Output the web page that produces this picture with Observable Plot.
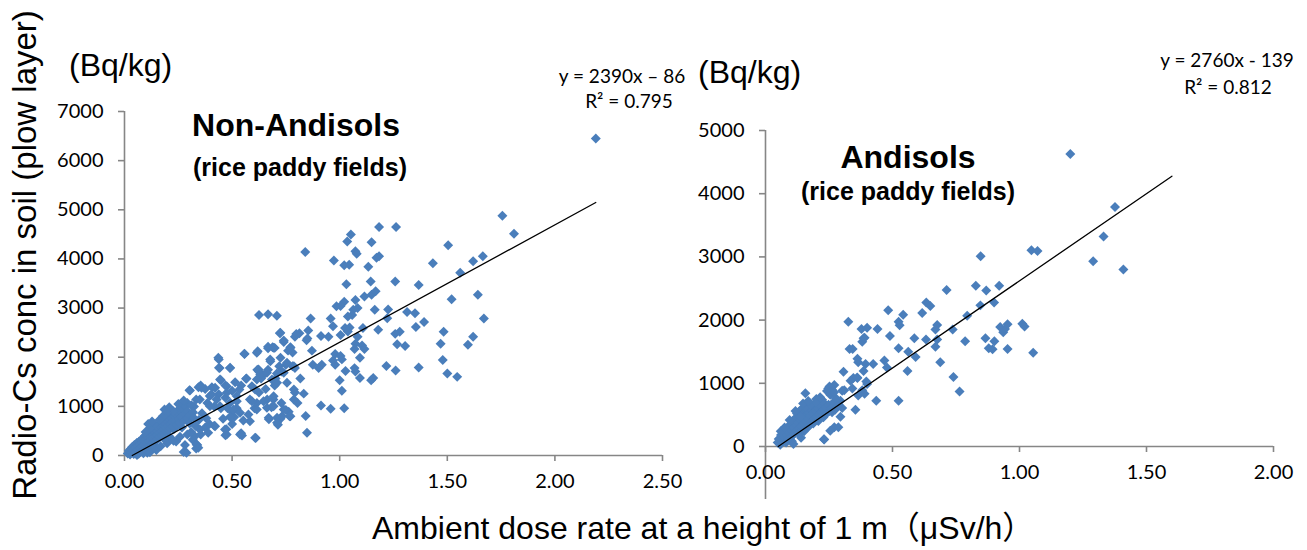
<!DOCTYPE html>
<html>
<head>
<meta charset="utf-8">
<script src="https://cdn.jsdelivr.net/npm/d3@7"></script>
<script src="https://cdn.jsdelivr.net/npm/@observablehq/plot@0.6"></script>
<style>
  html, body { margin: 0; padding: 0; background: #fff; }
  #wrap { position: relative; width: 1307px; height: 550px; overflow: hidden; background: #fff; }
  #wrap svg.panel { position: absolute; top: 0; }
  #wrap svg.panel g[aria-label$="tick label"] text { font-family: Lato, 'Open Sans', sans-serif; }
  #overlay { position: absolute; left: 0; top: 0; pointer-events: none; }
</style>
</head>
<body>
<div id="wrap"></div>
<script>
// ---------------- DATA ----------------
// Non-Andisols: [ambient dose rate (µSv/h), radio-Cs conc (Bq/kg)]
const nonAndisolsPoints = [
  [2.19,6450],[1.756,4880],[1.81,4510],[1.504,4280],[1.433,3910],[1.62,3955],[1.665,4054],[1.56,3720],
  [1.367,3470],[1.258,3540],[1.52,3180],[1.642,3270],[1.67,2790],[1.313,2920],[1.35,2895],[1.392,2717],
  [1.354,2617],[1.483,2518],[1.62,2418],[1.596,2255],[1.469,2276],[1.304,2226],[1.267,2262],[1.279,2518],
  [1.258,2475],[1.479,1942],[1.217,1821],[1.26,1728],[1.367,1792],[1.5,1671],[1.546,1600],[1.225,2973],
  [1.221,2795],[1.179,2560],[1.163,2966],[1.183,4054],[1.171,4025],[1.183,4651],[1.262,4651],[1.148,4338],
  [1.133,3840],[1.144,3542],[1.148,3270],[1.167,3343],[1.115,3236],[1.073,3165],[1.021,3130],[0.985,3037],
  [1.004,3044],[1.031,3485],[1.052,4495],[1.035,4353],[1.073,4154],[1.079,4104],[1.021,3869],[1.044,3883],
  [0.973,3968],[0.84,4140],[1.063,2966],[1.083,3001],[1.058,2860],[1.038,2830],[0.958,2790],[0.865,2790],
  [0.625,2860],[0.667,2873],[0.708,2845],[0.854,2546],[0.969,2631],[1.025,2596],[1.046,2603],[1.038,2525],
  [1.004,2454],[0.948,2418],[0.913,2432],[1.108,2596],[1.083,2418],[1.073,2276],[1.104,2240],[1.115,2169],
  [1.069,2169],[1.094,1991],[0.979,2063],[1.004,2027],[0.979,1849],[0.969,1935],[1.01,1956],[0.917,1849],
  [0.875,1849],[0.902,1778],[1.027,1721],[1.069,1778],[1.073,1707],[1.094,1579],[1.146,1529],[1.156,1579],
  [1.0,1529],[1.01,1316],[0.913,1017],[0.958,953],[1.021,960],[0.842,804],[0.848,462],[0.817,1565],
  [0.792,1280],[0.833,1259],[0.804,1067],[0.763,889],[0.767,797],[0.75,925],[0.729,1067],[0.713,626],
  [0.725,747],[0.671,740],[0.683,982],[0.663,1138],[0.61,356],[0.583,697],[0.542,455],[0.546,405],
  [0.469,412],[0.473,533],[0.5,640],[0.51,782],[0.552,711],[0.604,960],[0.615,1067],[0.583,1138],
  [0.625,1280],[0.656,1351],[0.698,1422],[0.702,1565],[0.692,1138],[0.725,1991],[0.74,2311],[0.722,2489],
  [0.76,2134],[0.771,2205],[0.781,2098],[0.792,2418],[0.813,2489],[0.798,2470],[0.846,2347],[0.85,2383],
  [0.871,2134],[0.75,1849],[0.719,1814],[0.781,1814],[0.792,1778],[0.688,2205],[0.667,2183],[0.698,2190],
  [0.677,1956],[0.619,2120],[0.558,2063],[0.617,1743],[0.625,1707],[0.646,1636],[0.635,1565],[0.667,1743],
  [0.708,1671],[0.729,1707],[0.567,1565],[0.542,1422],[0.49,1778],[0.438,1956],[0.442,1778],[0.448,1529],
  [0.469,1422],[0.5,1316],[0.521,1209],[0.469,1173],[0.438,1245],[0.396,1209],[0.406,1387],[0.375,1351],
  [0.354,1422],[0.344,1387],[0.302,1330],[0.333,1138],[0.385,1067],[0.417,996],[0.448,960],[0.479,960],
  [0.5,889],[0.521,960],[0.49,782],[0.458,747],[0.417,605],[0.375,569],[0.354,427],[0.338,213],
  [0.333,142],[0.317,320],[0.292,427],[0.267,569],[0.292,711],[0.313,853],[0.323,996],[0.292,1067],
  [0.271,996],[0.25,889],[0.229,853],[0.281,213],[0.275,71],[0.24,284],[0.208,391],[0.188,320],
  [0.177,498],[0.156,569],[0.135,213],[0.115,142],[0.083,107],[0.094,391],[0.125,462],[0.146,356],
  [0.24,711],[0.25,640],[0.219,605],[0.198,533],[0.229,533],[0.26,782],[0.208,747],
  [0.436,1988],[0.439,1785],[0.491,1785],[0.557,2070],[0.615,2090],[0.667,2212],[0.693,2192],[0.724,2497],
  [0.74,2340],[0.771,2192],[0.678,1919],[0.623,1750],[0.631,1648],[0.662,1683],[0.685,1547],[0.709,1480],
  [0.74,1683],[0.755,1886],[0.787,1817],[0.755,1480],[0.787,1343],[0.444,1547],[0.514,1492],[0.565,1561],
  [0.534,1343],[0.592,1410],[0.607,1343],[0.615,1547],[0.475,1410],[0.475,1276],[0.421,1378],[0.405,1241],
  [0.358,1378],[0.304,1323],[0.35,1140],[0.397,1003],[0.428,1140],[0.444,1003],[0.491,1072],[0.522,1105],
  [0.506,936],[0.537,869],[0.576,834],[0.592,1105],[0.615,936],[0.646,1105],[0.662,971],[0.693,1207],
  [0.693,1003],[0.67,767],[0.709,767],[0.732,800],[0.74,936],[0.771,800],[0.787,1140],[0.709,665],
  [0.607,360],[0.537,427],[0.475,427],[0.467,529],[0.421,596],[0.335,224],[0.343,157],[0.288,55],
  [0.35,529],[0.389,462],[0.327,393],
  // dense low cluster
  [0.015,40],[0.02,95],[0.026,18],[0.031,135],[0.033,62],[0.036,172],[0.041,104],[0.043,28],[0.046,212],
  [0.051,148],[0.052,74],[0.057,254],[0.061,186],[0.063,112],[0.066,35],[0.068,285],[0.072,218],[0.073,152],
  [0.077,318],[0.081,262],[0.082,178],[0.084,92],[0.087,352],[0.091,298],[0.093,224],[0.097,405],[0.101,328],
  [0.102,262],[0.104,158],[0.106,58],[0.108,424],[0.112,362],[0.113,288],[0.117,462],[0.121,392],[0.122,318],
  [0.124,228],[0.127,505],[0.131,428],[0.133,352],[0.134,162],[0.137,542],[0.141,472],[0.142,388],[0.144,296],
  [0.147,584],[0.151,502],[0.152,418],[0.154,338],[0.157,612],[0.161,544],[0.162,458],[0.164,378],[0.167,652],
  [0.171,576],[0.172,502],[0.174,414],[0.177,688],[0.181,622],[0.182,538],[0.184,452],[0.187,724],[0.191,648],
  [0.192,568],[0.194,482],[0.197,762],[0.201,692],[0.202,612],[0.204,518],[0.207,798],[0.211,728],[0.212,642],
  [0.214,548],[0.217,842],[0.221,758],[0.223,682],[0.226,592],[0.231,878],[0.233,802],[0.236,702],[0.241,832],
  [0.243,622],[0.247,918],[0.251,858],[0.253,742],[0.257,662],[0.262,902],[0.266,782],[0.271,958],[0.273,702],
  [0.281,842],[0.283,1002],[0.291,762],[0.293,902],[0.301,822],[0.303,652],[0.311,1022],[0.318,882],[0.322,762],
  [0.226,902],[0.196,868],[0.178,798],[0.162,722],[0.138,632],[0.118,556],[0.098,478],[0.186,938],[0.208,980],
  [0.058,12],[0.088,45],[0.118,68],[0.148,110],[0.168,190],[0.198,250],[0.228,300],[0.258,380],[0.11,640],
  [0.128,690],[0.25,1050],[0.275,1120],[0.33,600],[0.345,720],[0.36,860],[0.38,760],[0.395,640],[0.31,480]
];

// Andisols
const andisolsPoints = [
  [1.2,4628],[1.376,3789],[1.331,3322],[1.29,2933],[1.409,2800],[1.047,3106],[1.071,3094],[0.847,3011],
  [0.828,2544],[0.92,2544],[0.869,2467],[0.713,2478],[0.9,2278],[0.846,2233],[0.794,2067],[0.633,2278],
  [0.649,2222],[0.617,2111],[0.542,2083],[0.483,2156],[0.524,1972],[0.528,1917],[0.326,1972],[0.378,1861],
  [0.4,1878],[0.441,1861],[0.676,1922],[0.669,1850],[0.737,1850],[0.586,1711],[0.632,1694],[0.49,1750],
  [0.386,1711],[0.381,1656],[0.39,1722],[0.331,1544],[0.343,1544],[0.524,1556],[0.562,1500],[0.591,1417],
  [0.669,1578],[0.676,1694],[0.786,1667],[0.866,1711],[0.901,1667],[0.879,1556],[0.894,1539],[0.953,1544],
  [0.924,1889],[0.943,1861],[0.936,1806],[0.953,1933],[1.011,1944],[1.02,1900],[1.054,1483],[0.688,1333],
  [0.559,1194],[0.468,1361],[0.478,1250],[0.424,1306],[0.386,1194],[0.394,1306],[0.362,1389],[0.365,1333],
  [0.307,1183],[0.74,1100],[0.764,872],[0.436,722],[0.524,722],[0.354,583],[0.346,1083],[0.362,1083],
  [0.397,1028],[0.342,917],[0.31,889],[0.381,889],[0.365,806],[0.39,833],[0.271,972],[0.247,917],
  [0.26,833],[0.157,844],[0.2,750],[0.224,667],[0.287,667],[0.302,611],[0.295,472],[0.231,111],
  [0.271,306],[0.287,306],[0.255,250],[0.335,1041],[0.361,1093],[0.4,989],[0.302,882],[0.295,724],
  [0.23,116],[0.274,580],[0.262,540],
  // dense low cluster
  [0.048,62],[0.052,118],[0.058,28],[0.061,182],[0.066,92],[0.069,222],[0.072,148],[0.078,252],[0.081,64],
  [0.083,182],[0.088,302],[0.091,122],[0.093,222],[0.098,352],[0.101,262],[0.103,162],[0.104,82],[0.108,402],
  [0.111,302],[0.113,198],[0.118,452],[0.121,342],[0.122,242],[0.124,522],[0.128,382],[0.131,482],[0.133,282],
  [0.134,562],[0.138,422],[0.141,322],[0.142,518],[0.144,598],[0.148,462],[0.151,362],[0.152,542],[0.158,402],
  [0.161,502],[0.162,578],[0.164,302],[0.168,442],[0.171,542],[0.172,618],[0.178,482],[0.181,382],[0.182,578],
  [0.188,522],[0.191,422],[0.192,638],[0.198,562],[0.201,462],[0.202,682],[0.208,602],[0.211,502],[0.218,642],
  [0.221,542],[0.223,738],[0.228,582],[0.232,682],[0.238,622],[0.241,522],[0.248,662],[0.251,562],[0.258,602],
  [0.262,898],[0.268,702],[0.278,758],[0.282,642],[0.132,202],[0.152,242],[0.171,322],[0.188,362],[0.208,402],
  [0.228,462],[0.242,878],[0.252,948],[0.118,560],[0.138,470],[0.158,620],[0.178,660],[0.198,700],[0.215,780],
  [0.255,820],[0.27,860],[0.06,240],[0.075,300],[0.095,420],[0.148,680],[0.168,720],[0.11,40],[0.14,140]
];

const nonAndisolsTrend = { slope: 2390, intercept: -86, xStart: 0.036, xEnd: 2.19 };
const andisolsTrend    = { slope: 2760, intercept: -139, xStart: 0.05, xEnd: 1.6 };

const leftXTicks  = [0, 0.5, 1.0, 1.5, 2.0, 2.5];
const leftYTicks  = [0, 1000, 2000, 3000, 4000, 5000, 6000, 7000];
const rightXTicks = [0, 0.5, 1.0, 1.5, 2.0];
const rightYTicks = [0, 1000, 2000, 3000, 4000, 5000];

const texts = {
  yLabel: "Radio-Cs conc in soil (plow layer)",
  xLabel: "Ambient dose rate at a height of 1 m（μSv/h）",
  unit: "(Bq/kg)",
  leftTitle: "Non-Andisols",
  rightTitle: "Andisols",
  subtitle: "(rice paddy fields)",
  leftEq: "y = 2390x – 86",
  leftR2: "R² = 0.795",
  rightEq: "y = 2760x - 139",
  rightR2: "R² = 0.812"
};

// ---------------- DRAW ----------------
const AXIS = "#868686";
const DOT = "#4a7ebb";
const tickFont = "Lato, 'Open Sans', sans-serif";

function trendLine(t) {
  return [t.xStart, t.xEnd].map(x => ({x, y: t.slope * x + t.intercept}));
}

function panel({points, trend, xTicks, yTicks, xDomain, yDomain, width, height, margins, axisExtend}) {
  const data = points.map(([x, y]) => ({x, y}));
  const svg = Plot.plot({
    width, height,
    marginLeft: margins[0], marginRight: margins[1], marginTop: margins[2], marginBottom: margins[3],
    x: {domain: xDomain},
    y: {domain: yDomain},
    style: {fontFamily: tickFont, fontSize: "20px", color: "#000", background: "transparent", overflow: "visible"},
    marks: [
      Plot.ruleY([0], {stroke: AXIS, strokeWidth: 1.6}),
      Plot.ruleX([0], {y1: axisExtend, y2: yDomain[1], stroke: AXIS, strokeWidth: 1.6}),
      Plot.axisX({ticks: xTicks, tickFormat: d3.format(".2f"), tickSize: 6, tickPadding: 12,
                  stroke: AXIS, strokeWidth: 1.6, fill: "#000", label: null, fontSize: 20}),
      Plot.axisY({ticks: yTicks, tickFormat: d3.format("d"), tickSize: 6, tickPadding: 15,
                  stroke: AXIS, strokeWidth: 1.6, fill: "#000", label: null, fontSize: 20}),
      Plot.dot(data, {x: "x", y: "y", symbol: "diamond2", r: 4.5, fill: DOT, stroke: null}),
      Plot.line(trendLine(trend), {x: "x", y: "y", stroke: "#000", strokeWidth: 1.3})
    ]
  });
  // make sure tick labels use the intended size
  svg.querySelectorAll("text").forEach(t => { t.setAttribute("font-size", "20"); t.style.fontSize = "20px"; });
  return svg;
}

const wrap = document.getElementById("wrap");

const left = panel({
  points: nonAndisolsPoints, trend: nonAndisolsTrend,
  xTicks: leftXTicks, yTicks: leftYTicks, xDomain: [0, 2.5], yDomain: [0, 7000],
  width: 680, height: 550, margins: [124, 18, 111, 95], axisExtend: 0
});
left.classList.add("panel");
left.style.left = "0px";
wrap.appendChild(left);

const right = panel({
  points: andisolsPoints, trend: andisolsTrend,
  xTicks: rightXTicks, yTicks: rightYTicks, xDomain: [0, 2.0], yDomain: [0, 5000],
  width: 627, height: 550, margins: [85, 34, 130, 104], axisExtend: -840
});
right.classList.add("panel");
right.style.left = "680px";
wrap.appendChild(right);

// text overlay
const ov = d3.select(wrap).append("svg").attr("id", "overlay")
  .attr("width", 1307).attr("height", 550);
const sans = "'Liberation Sans', Arial, 'Noto Sans CJK JP', sans-serif";

function txt(x, y, s, {size, weight = "normal", anchor = "start", family = sans, rotate = 0}) {
  return ov.append("text")
    .attr("transform", `translate(${x},${y})` + (rotate ? ` rotate(${rotate})` : ""))
    .attr("text-anchor", anchor)
    .style("font-family", family)
    .style("font-size", size + "px")
    .style("font-weight", weight)
    .attr("fill", "#000")
    .text(s);
}

txt(36, 255, texts.yLabel, {size: 33, anchor: "middle", rotate: -90});
txt(372, 539, texts.xLabel, {size: 32});
txt(69, 76, texts.unit, {size: 32});
txt(698, 83, texts.unit, {size: 32});
txt(296, 136, texts.leftTitle, {size: 32, weight: "bold", anchor: "middle"});
txt(300, 176, texts.subtitle, {size: 25, weight: "bold", anchor: "middle"});
txt(908, 168, texts.rightTitle, {size: 32, weight: "bold", anchor: "middle"});
txt(908, 200, texts.subtitle, {size: 25, weight: "bold", anchor: "middle"});
txt(622, 83, texts.leftEq, {size: 19, anchor: "middle", family: tickFont});
txt(629, 108, texts.leftR2, {size: 19, anchor: "middle", family: tickFont});
txt(1227, 67, texts.rightEq, {size: 19, anchor: "middle", family: tickFont});
txt(1228, 94, texts.rightR2, {size: 19, anchor: "middle", family: tickFont});
</script>
</body>
</html>
